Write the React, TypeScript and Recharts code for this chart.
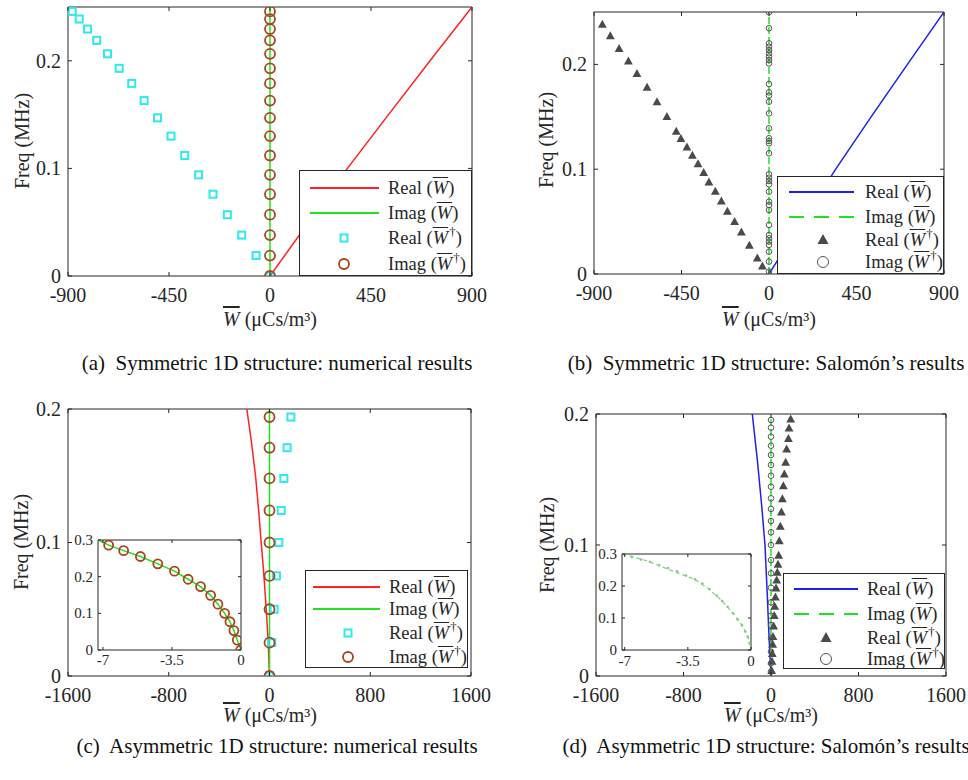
import React from 'react';
import { ScatterChart, Scatter, XAxis, YAxis, ReferenceArea, Legend } from 'recharts';

const SERIF = '"Liberation Serif", "Times New Roman", Times, serif';
const INK = '#262626';
const RED = '#ff2222';
const GREEN = '#22e022';
const CYAN = '#2ee8f2';
const BROWN = '#a5461c';
const BLUE = '#2020ee';
const DARK = '#4a4a4a';

// ---- (a) symmetric 1D structure, numerical ----
const aRealLineW = [0, 172, 345, 528, 713, 900];
const aRealLineF = [0, 0.05, 0.1, 0.15, 0.2, 0.25];
const aImagLineW = [0, 0];
const aImagLineF = [0, 0.25];
const aDagF = [0, 0.019, 0.038, 0.057, 0.076, 0.094, 0.112, 0.13, 0.147, 0.163, 0.179, 0.193, 0.2065, 0.219, 0.2295, 0.2388, 0.2459];
const aDagRealW = [0, -62, -126, -190, -254, -318, -380, -441, -501, -561, -616, -672, -724, -772, -813, -850, -881];
const aDagImagW = [0, 0, 0, 0, 0, 0, 0, 0, 0, 0, 0, 0, 0, 0, 0, 0, 0];

// ---- (b) symmetric 1D structure, Salomón ----
const bRealLineW = [0, 170, 343, 525, 712, 900];
const bRealLineF = [0, 0.05, 0.1, 0.15, 0.2, 0.25];
const bImagLineW = [0, 0];
const bImagLineF = [0, 0.25];
const bDagRealW = [-34, -60, -101, -142, -177, -214, -245, -276, -309, -336, -365, -394, -422, -453, -477, -525, -576, -627, -679, -723, -771, -816, -857];
const bDagRealF = [0.0073, 0.015, 0.0271, 0.0398, 0.0497, 0.0596, 0.0694, 0.0787, 0.0876, 0.0965, 0.105, 0.113, 0.121, 0.129, 0.136, 0.15, 0.164, 0.178, 0.191, 0.203, 0.215, 0.227, 0.238];
const bDagImagF = [0.0022, 0.0118, 0.0213, 0.0277, 0.0309, 0.034, 0.0372, 0.0468, 0.0611, 0.0658, 0.069, 0.0786, 0.0856, 0.0887, 0.0919, 0.0951, 0.1152, 0.1247, 0.1269, 0.1295, 0.139, 0.1533, 0.1644, 0.1702, 0.1733, 0.1813, 0.201, 0.2042, 0.2074, 0.2106, 0.2137, 0.2169, 0.2201, 0.2345, 0.2497];
const bDagImagW = [0, 0, 0, 0, 0, 0, 0, 0, 0, 0, 0, 0, 0, 0, 0, 0, 0, 0, 0, 0, 0, 0, 0, 0, 0, 0, 0, 0, 0, 0, 0, 0, 0, 0, 0];

// ---- (c) asymmetric 1D structure, numerical ----
const cRealLineW = [0, -10, -26, -44, -66, -87, -111, -143, -180];
const cRealLineF = [0, 0.025, 0.05, 0.075, 0.1, 0.125, 0.15, 0.175, 0.2];
const cImagLineW = [0, 0];
const cImagLineF = [0, 0.2];
const cDagF = [0, 0.025, 0.05, 0.075, 0.1, 0.124, 0.148, 0.171, 0.194];
const cDagRealW = [0, 18, 37, 55, 74, 93, 114, 140, 170];
const cDagImagW = [0, 0, 0, 0, 0, 0, 0, 0, 0];
// inset (c)
const cInsetLineW = [-7.22, -6.71, -5.95, -5.1, -4.22, -3.37, -2.68, -2.05, -1.54, -1.17, -0.83, -0.56, -0.36, -0.19, 0];
const cInsetLineF = [0.3, 0.286, 0.271, 0.255, 0.235, 0.215, 0.193, 0.173, 0.149, 0.125, 0.1, 0.077, 0.053, 0.027, 0];
const cInsetDotW = [-6.71, -5.95, -5.1, -4.22, -3.37, -2.68, -2.05, -1.54, -1.17, -0.83, -0.56, -0.36, -0.19, -0.02];
const cInsetDotF = [0.286, 0.271, 0.255, 0.235, 0.215, 0.193, 0.173, 0.149, 0.125, 0.1, 0.077, 0.053, 0.027, 0];

// ---- (d) asymmetric 1D structure, Salomón ----
const dRealLineW = [0, -18, -33, -55, -85, -125, -171];
const dRealLineF = [0, 0.03, 0.06, 0.1, 0.13, 0.165, 0.2];
const dImagLineW = [0, 0];
const dImagLineF = [0, 0.198];
const dDagRealW = [6, 9, 12, 15, 18, 24, 30, 34, 40, 46, 52, 58, 64, 70, 76, 85, 95, 104, 113, 122, 134, 143, 159, 165, 180];
const dDagRealF = [0.004, 0.011, 0.017, 0.024, 0.03, 0.038, 0.046, 0.053, 0.06, 0.067, 0.073, 0.079, 0.085, 0.092, 0.103, 0.114, 0.125, 0.135, 0.145, 0.154, 0.163, 0.173, 0.181, 0.189, 0.196];
const dDagImagF = [0.0033, 0.0097, 0.0186, 0.0288, 0.0389, 0.046, 0.0562, 0.0674, 0.0784, 0.0885, 0.1, 0.1097, 0.1183, 0.1275, 0.1356, 0.1445, 0.1529, 0.1611, 0.1687, 0.1758, 0.1827, 0.1896, 0.1954];
const dDagImagW = [0, 0, 0, 0, 0, 0, 0, 0, 0, 0, 0, 0, 0, 0, 0, 0, 0, 0, 0, 0, 0, 0, 0];
// inset (d)
const dInsetLineW = [-7.1, -5.68, -4.4, -3.13, -2.41, -1.68, -0.96, -0.41, -0.14, 0];
const dInsetLineF = [0.3, 0.277, 0.248, 0.221, 0.194, 0.157, 0.113, 0.07, 0.038, 0];
const dInsetDotW = [-7.05, -6.6, -6.1, -5.6, -5.1, -4.6, -4.1, -3.6, -3.1, -2.7, -2.3, -1.9, -1.6, -1.3, -1.0, -0.75, -0.5, -0.32, -0.18, -0.08, 0];
const dInsetDotF = [0.299, 0.291, 0.283, 0.275, 0.265, 0.256, 0.246, 0.233, 0.221, 0.208, 0.19, 0.17, 0.153, 0.135, 0.115, 0.096, 0.077, 0.058, 0.041, 0.022, 0];

const symTicksX = [-900, -450, 0, 450, 900];
const symTicksY = [0, 0.1, 0.2];
const asymTicksX = [-1600, -800, 0, 800, 1600];
const asymTicksY = [0, 0.1, 0.2];
const insetTicksX = [-7, -3.5, 0];
const insetTicksY = [0, 0.1, 0.2, 0.3];

const captions = [
  '(a)  Symmetric 1D structure: numerical results',
  '(b)  Symmetric 1D structure: Salomón’s results',
  '(c)  Asymmetric 1D structure: numerical results',
  '(d)  Asymmetric 1D structure: Salomón’s results',
];

type Pt = { x: number; y: number };
const zip = (xs: number[], ys: number[]): Pt[] => xs.map((x, i) => ({ x, y: ys[i] }));

type Kind = 'line' | 'square' | 'circle' | 'tri' | 'dot';
interface Series {
  data: Pt[];
  kind: Kind;
  color: string;
  size?: number;
  sw?: number;
  dash?: string;
  legendDash?: string;
  legendSize?: number;
  name?: string;
  dagger?: boolean;
}

interface LegendSpec {
  x: number; y: number; w: number; h: number;
  rows: number[];
  sample: [number, number];
  markX: number;
  textX: number;
}

interface PanelCfg {
  left: number; top: number; width: number; height: number;
  plot: { l: number; t: number; r: number; b: number };
  xDomain: [number, number]; xTicks: number[];
  yDomain: [number, number]; yTicks: number[];
  fs: number; tickLen: number; xLabelDy: number; yLabelGap: number;
  series: Series[];
  legend?: LegendSpec;
  xTitle?: { tx: number; ty: number };
  yTitle?: { tx: number; ty: number };
}

const txt = (fs: number) => ({ fontFamily: SERIF, fontSize: fs, fill: INK });

const Marker = ({ kind, cx, cy, color, size = 5, sw = 1.5 }: any) => {
  if (cx == null || cy == null) return <g />;
  if (kind === 'square')
    return <rect x={cx - size / 2} y={cy - size / 2} width={size} height={size} fill="none" stroke={color} strokeWidth={sw} />;
  if (kind === 'circle') return <circle cx={cx} cy={cy} r={size} fill="none" stroke={color} strokeWidth={sw} />;
  if (kind === 'tri') {
    const h = size;
    return (
      <polygon
        points={`${cx},${cy - h * 0.6} ${cx - h * 0.55},${cy + h * 0.4} ${cx + h * 0.55},${cy + h * 0.4}`}
        fill={color}
      />
    );
  }
  if (kind === 'dot') return <circle cx={cx} cy={cy} r={size} fill={color} />;
  return <g />;
};

const XTick = (p: any) => {
  const { x, y, payload, top, len, fs, ldy } = p;
  return (
    <g>
      <line x1={x} y1={y} x2={x} y2={y - len} stroke={INK} strokeWidth={1} />
      <line x1={x} y1={top} x2={x} y2={top + len} stroke={INK} strokeWidth={1} />
      <text x={x} y={y + ldy} textAnchor="middle" style={txt(fs)}>
        {payload.value}
      </text>
    </g>
  );
};

const YTick = (p: any) => {
  const { x, y, payload, right, len, fs, gap } = p;
  return (
    <g>
      <line x1={x} y1={y} x2={x + len} y2={y} stroke={INK} strokeWidth={1} />
      <line x1={right} y1={y} x2={right - len} y2={y} stroke={INK} strokeWidth={1} />
      <text x={x - gap} y={y} dy="0.34em" textAnchor="end" style={txt(fs)}>
        {payload.value}
      </text>
    </g>
  );
};

const XTitle = (p: any) => (
  <text x={p.tx} y={p.ty} textAnchor="middle" style={txt(p.fs)}>
    <tspan style={{ fontStyle: 'italic', textDecoration: 'overline' }}>W</tspan>
    <tspan> (μCs/m³)</tspan>
  </text>
);

const YTitle = (p: any) => (
  <text
    x={p.tx}
    y={p.ty}
    transform={`rotate(-90 ${p.tx} ${p.ty})`}
    textAnchor="middle"
    dominantBaseline="central"
    style={txt(p.fs)}
  >
    Freq (MHz)
  </text>
);

const WBar = ({ dagger }: { dagger?: boolean }) => (
  <span>
    <span style={{ fontStyle: 'italic', textDecoration: 'overline' }}>W</span>
    {dagger && <span style={{ fontSize: 13, position: 'relative', top: -8, marginLeft: 1 }}>†</span>}
  </span>
);

const LegendBox = ({ spec, series }: { spec: LegendSpec; series: Series[] }) => {
  const items = series.filter(s => s.name);
  return (
    <div
      style={{
        position: 'relative', width: spec.w, height: spec.h, border: `1px solid ${INK}`,
        background: '#fff', boxSizing: 'border-box', fontFamily: SERIF, fontSize: 18.5, color: INK,
      }}
    >
      {items.map((s, i) => (
        <div key={i} style={{ position: 'absolute', left: 0, top: spec.rows[i] - 12, height: 24, width: '100%' }}>
          <svg width={spec.textX} height={24} style={{ position: 'absolute', left: 0, top: 0 }}>
            {s.kind === 'line' ? (
              <line x1={spec.sample[0]} x2={spec.sample[1]} y1={12} y2={12} stroke={s.color} strokeWidth={1.8}
                strokeDasharray={s.legendDash} />
            ) : (
              <Marker kind={s.kind} cx={spec.markX} cy={12} color={s.color} size={s.legendSize ?? s.size} sw={s.sw} />
            )}
          </svg>
          <span style={{ position: 'absolute', left: spec.textX, top: 0, lineHeight: '24px', whiteSpace: 'nowrap' }}>
            {s.name} (<WBar dagger={s.dagger} />)
          </span>
        </div>
      ))}
    </div>
  );
};

const noDot = () => <g />;

const Panel = ({ cfg }: { cfg: PanelCfg }) => {
  const { plot } = cfg;
  return (
    <div style={{ position: 'absolute', left: cfg.left, top: cfg.top }}>
      <ScatterChart width={cfg.width} height={cfg.height} margin={{ top: plot.t, right: cfg.width - plot.r, bottom: 0, left: 0 }}>
        <XAxis
          type="number" dataKey="x" domain={cfg.xDomain} ticks={cfg.xTicks} interval={0} allowDataOverflow
          height={cfg.height - plot.b} tickSize={0} tickMargin={0} tickLine={false} axisLine={false}
          tick={<XTick top={plot.t} len={cfg.tickLen} fs={cfg.fs} ldy={cfg.xLabelDy} />}
          label={cfg.xTitle ? <XTitle tx={cfg.xTitle.tx} ty={cfg.xTitle.ty} fs={cfg.fs} /> : undefined}
        />
        <YAxis
          type="number" dataKey="y" domain={cfg.yDomain} ticks={cfg.yTicks} interval={0} allowDataOverflow
          width={plot.l} tickSize={0} tickMargin={0} tickLine={false} axisLine={false}
          tick={<YTick right={plot.r} len={cfg.tickLen} fs={cfg.fs} gap={cfg.yLabelGap} />}
          label={cfg.yTitle ? <YTitle tx={cfg.yTitle.tx} ty={cfg.yTitle.ty} fs={cfg.fs} /> : undefined}
        />
        <ReferenceArea
          x1={cfg.xDomain[0]} x2={cfg.xDomain[1]} y1={cfg.yDomain[0]} y2={cfg.yDomain[1]}
          fill="none" stroke={INK} strokeWidth={1} ifOverflow="visible"
        />
        {cfg.series.map((s, i) =>
          s.kind === 'line' ? (
            <Scatter
              key={i} data={s.data} isAnimationActive={false} shape={noDot} legendType="none"
              line={{ stroke: s.color, strokeWidth: s.sw ?? 1.5, strokeDasharray: s.dash }} lineJointType="linear"
            />
          ) : (
            <Scatter
              key={i} data={s.data} isAnimationActive={false} legendType="none"
              shape={(p: any) => <Marker kind={s.kind} cx={p.cx} cy={p.cy} color={s.color} size={s.size} sw={s.sw} />}
            />
          )
        )}
        {cfg.legend && (
          <Legend
            layout="vertical" align="center" verticalAlign="middle"
            wrapperStyle={{ left: cfg.legend.x, top: cfg.legend.y, width: cfg.legend.w, height: cfg.legend.h, right: 'auto', bottom: 'auto' }}
            content={() => <LegendBox spec={cfg.legend!} series={cfg.series} />}
          />
        )}
      </ScatterChart>
    </div>
  );
};

const panelA: PanelCfg = {
  left: 0, top: 0, width: 500, height: 340,
  plot: { l: 68, t: 7, r: 472, b: 276 },
  xDomain: [-900, 900], xTicks: symTicksX, yDomain: [0, 0.25], yTicks: symTicksY,
  fs: 20, tickLen: 4, xLabelDy: 26, yLabelGap: 7,
  xTitle: { tx: 270, ty: 326 }, yTitle: { tx: 22, ty: 141 },
  series: [
    { data: zip(aRealLineW, aRealLineF), kind: 'line', color: RED, name: 'Real' },
    { data: zip(aImagLineW, aImagLineF), kind: 'line', color: GREEN, name: 'Imag' },
    { data: zip(aDagRealW, aDagF), kind: 'square', color: CYAN, size: 7, sw: 2, name: 'Real', dagger: true },
    { data: zip(aDagImagW, aDagF), kind: 'circle', color: BROWN, size: 5, sw: 1.8, name: 'Imag', dagger: true },
  ],
  legend: { x: 299, y: 170, w: 173, h: 106, rows: [17, 42, 67, 93], sample: [10, 79], markX: 44, textX: 88 },
};

const panelB: PanelCfg = {
  left: 484, top: 0, width: 484, height: 340,
  plot: { l: 110, t: 12, r: 460, b: 274 },
  xDomain: [-900, 900], xTicks: symTicksX, yDomain: [0, 0.25], yTicks: symTicksY,
  fs: 20, tickLen: 4, xLabelDy: 26, yLabelGap: 7,
  xTitle: { tx: 285, ty: 326 }, yTitle: { tx: 62, ty: 140 },
  series: [
    { data: zip(bRealLineW, bRealLineF), kind: 'line', color: BLUE, name: 'Real' },
    { data: zip(bImagLineW, bImagLineF), kind: 'line', color: GREEN, dash: '7 3', legendDash: '15 10', name: 'Imag' },
    { data: zip(bDagRealW, bDagRealF), kind: 'tri', color: DARK, size: 8, legendSize: 10, name: 'Real', dagger: true },
    { data: zip(bDagImagW, bDagImagF), kind: 'circle', color: '#555', size: 2.8, sw: 1, legendSize: 5.5, name: 'Imag', dagger: true },
  ],
  legend: { x: 293, y: 176, w: 167, h: 98, rows: [15, 40, 63, 85], sample: [11, 76], markX: 45, textX: 87 },
};

const panelC: PanelCfg = {
  left: 0, top: 390, width: 500, height: 350,
  plot: { l: 68, t: 19, r: 471, b: 286 },
  xDomain: [-1600, 1600], xTicks: asymTicksX, yDomain: [0, 0.2], yTicks: asymTicksY,
  fs: 20, tickLen: 4, xLabelDy: 26, yLabelGap: 7,
  xTitle: { tx: 270, ty: 332 }, yTitle: { tx: 21, ty: 152 },
  series: [
    { data: zip(cRealLineW, cRealLineF), kind: 'line', color: RED, name: 'Real' },
    { data: zip(cImagLineW, cImagLineF), kind: 'line', color: GREEN, name: 'Imag' },
    { data: zip(cDagRealW, cDagF), kind: 'square', color: CYAN, size: 7, sw: 2, name: 'Real', dagger: true },
    { data: zip(cDagImagW, cDagF), kind: 'circle', color: BROWN, size: 5, sw: 1.8, name: 'Imag', dagger: true },
  ],
  legend: { x: 305, y: 180, w: 163, h: 98, rows: [16, 38, 62, 86], sample: [7, 74], markX: 42, textX: 83 },
};

const panelD: PanelCfg = {
  left: 484, top: 390, width: 484, height: 350,
  plot: { l: 112, t: 24, r: 462, b: 286 },
  xDomain: [-1600, 1600], xTicks: asymTicksX, yDomain: [0, 0.2], yTicks: asymTicksY,
  fs: 20, tickLen: 4, xLabelDy: 26, yLabelGap: 7,
  xTitle: { tx: 287, ty: 332 }, yTitle: { tx: 63, ty: 155 },
  series: [
    { data: zip(dRealLineW, dRealLineF), kind: 'line', color: BLUE, name: 'Real' },
    { data: zip(dImagLineW, dImagLineF), kind: 'line', color: GREEN, dash: '7 3', legendDash: '15 10', name: 'Imag' },
    { data: zip(dDagRealW, dDagRealF), kind: 'tri', color: DARK, size: 8, legendSize: 10, name: 'Real', dagger: true },
    { data: zip(dDagImagW, dDagImagF), kind: 'circle', color: '#555', size: 2.8, sw: 1, legendSize: 5.5, name: 'Imag', dagger: true },
  ],
  legend: { x: 299, y: 183, w: 162, h: 96, rows: [15, 40, 64, 85], sample: [10, 74], markX: 42, textX: 83 },
};

const insetC: PanelCfg = {
  left: 60, top: 525, width: 200, height: 150,
  plot: { l: 38, t: 15, r: 181, b: 125 },
  xDomain: [-7.25, 0], xTicks: insetTicksX, yDomain: [0, 0.3], yTicks: insetTicksY,
  fs: 15, tickLen: 3, xLabelDy: 15, yLabelGap: 5,
  series: [
    { data: zip(cInsetLineW, cInsetLineF), kind: 'line', color: GREEN },
    { data: zip(cInsetDotW, cInsetDotF), kind: 'circle', color: BROWN, size: 4.5, sw: 1.8 },
  ],
};

const insetD: PanelCfg = {
  left: 580, top: 540, width: 190, height: 130,
  plot: { l: 42, t: 14, r: 171, b: 110 },
  xDomain: [-7.15, 0], xTicks: insetTicksX, yDomain: [0, 0.3], yTicks: insetTicksY,
  fs: 15, tickLen: 3, xLabelDy: 16, yLabelGap: 5,
  series: [
    { data: zip(dInsetDotW, dInsetDotF), kind: 'dot', color: '#aaaaaa', size: 1.3 },
    { data: zip(dInsetLineW, dInsetLineF), kind: 'line', color: '#6be06b', dash: '4 3', sw: 1.2 },
  ],
};

const captionPos = [
  { cx: 277, cy: 363 },
  { cx: 766, cy: 363 },
  { cx: 277, cy: 746 },
  { cx: 766, cy: 746 },
];

const App: React.FC = () => (
  <div style={{ position: 'absolute', left: 0, top: 0, width: 968, height: 780, overflow: 'hidden', background: '#fff' }}>
    {[panelA, panelB, panelC, panelD, insetC, insetD].map((cfg, i) => (
      <Panel key={i} cfg={cfg} />
    ))}
    {captions.map((c, i) => (
      <div
        key={c}
        style={{
          position: 'absolute', left: captionPos[i].cx - 260, top: captionPos[i].cy - 13, width: 520, height: 26,
          textAlign: 'center', lineHeight: '26px', fontFamily: SERIF, fontSize: 21, color: '#111', whiteSpace: 'pre',
        }}
      >
        {c}
      </div>
    ))}
  </div>
);

export default App;
